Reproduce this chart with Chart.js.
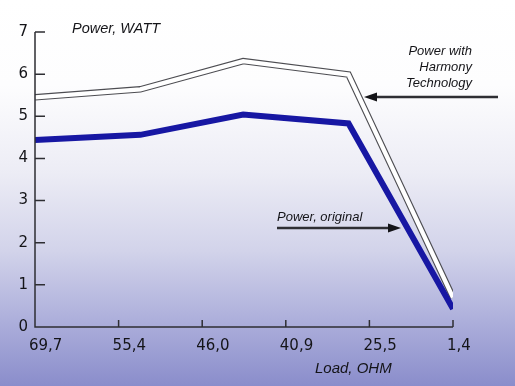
<!DOCTYPE html>
<html>
<head>
<meta charset="utf-8">
<script src="https://cdn.jsdelivr.net/npm/chart.js@4"></script>
<style>
  html, body { margin: 0; padding: 0; }
  body {
    width: 515px; height: 386px; overflow: hidden;
    background: linear-gradient(to bottom, #ffffff 0%, #fdfdfe 22%, #ececf5 45%, #d2d3ea 65%, #afb1dc 82%, #8a8dcb 100%);
  }
  canvas { display: block; }
</style>
</head>
<body>
<canvas id="chart" width="515" height="386"></canvas>
<script>
// tick labels of the load axis (OHM)
const loadLabels = ['69,7', '55,4', '46,0', '40,9', '25,5', '1,4'];
// where each measured point sits along the load axis (in tick steps)
const pointPos = [0, 1.26, 2.49, 3.75, 5];
// power, WATT
const powerHarmony = [5.45, 5.64, 6.31, 5.99, 0.7];
const powerOriginal = [4.44, 4.56, 5.04, 4.83, 0.43];

function toPoints(values) {
    return values.map((v, i) => ({ x: pointPos[i], y: v }));
}

const axisFont = { family: 'DejaVu Sans', size: 15 };

// axes with inward ticks + the text and arrows
const decorations = {
    id: 'decorations',
    afterDraw(chart) {
        const ctx = chart.ctx;
        const xs = chart.scales.x;
        const ys = chart.scales.y;
        const left = xs.getPixelForValue(0);
        const right = xs.getPixelForValue(5);
        const bottom = ys.getPixelForValue(0);
        const top = ys.getPixelForValue(7);

        ctx.save();
        ctx.strokeStyle = '#2e2e33';
        ctx.lineWidth = 1.5;
        ctx.beginPath();
        ctx.moveTo(left, top);
        ctx.lineTo(left, bottom);
        ctx.lineTo(right, bottom);
        for (let v = 1; v <= 7; v++) {
            const y = ys.getPixelForValue(v);
            ctx.moveTo(left, y);
            ctx.lineTo(left + 10, y);
        }
        for (let i = 1; i < loadLabels.length; i++) {
            const x = xs.getPixelForValue(i);
            ctx.moveTo(x, bottom);
            ctx.lineTo(x, bottom - 7);
        }
        ctx.stroke();

        ctx.fillStyle = '#141418';
        ctx.textBaseline = 'middle';
        ctx.font = 'italic 14.5px "Liberation Sans"';
        ctx.textAlign = 'left';
        ctx.fillText('Power, WATT', 72, 29);

        ctx.font = 'italic 13px "Liberation Sans"';
        ctx.textAlign = 'right';
        ctx.fillText('Power with', 472, 51);
        ctx.fillText('Harmony', 472, 67);
        ctx.fillText('Technology', 472, 83);

        ctx.textAlign = 'left';
        ctx.fillText('Power, original', 277, 217);

        ctx.font = 'italic 15px "Liberation Sans"';
        ctx.fillText('Load, OHM', 315, 369);

        // arrows
        ctx.lineWidth = 2.5;
        ctx.beginPath();
        ctx.moveTo(498, 97);
        ctx.lineTo(374, 97);
        ctx.moveTo(277, 228);
        ctx.lineTo(390, 228);
        ctx.stroke();
        ctx.beginPath();
        ctx.moveTo(364, 97);
        ctx.lineTo(377, 92.5);
        ctx.lineTo(377, 101.5);
        ctx.closePath();
        ctx.moveTo(401, 228);
        ctx.lineTo(388, 223.5);
        ctx.lineTo(388, 232.5);
        ctx.closePath();
        ctx.fill();
        ctx.restore();
    }
};

new Chart(document.getElementById('chart'), {
    type: 'line',
    data: {
        datasets: [
            {
                label: 'Power with Harmony Technology (outline)',
                data: toPoints(powerHarmony),
                borderColor: '#4d4d52',
                borderWidth: 6.5,
                borderJoinStyle: 'miter',
                pointRadius: 0,
                tension: 0,
                fill: false,
                order: 3
            },
            {
                label: 'Power with Harmony Technology',
                data: toPoints(powerHarmony),
                borderColor: '#ffffff',
                borderWidth: 4.3,
                borderJoinStyle: 'miter',
                pointRadius: 0,
                tension: 0,
                fill: false,
                order: 2
            },
            {
                label: 'Power, original',
                data: toPoints(powerOriginal),
                borderColor: '#1717a3',
                borderWidth: 6,
                borderJoinStyle: 'miter',
                pointRadius: 0,
                tension: 0,
                fill: false,
                order: 1
            }
        ]
    },
    options: {
        responsive: false,
        animation: false,
        layout: { padding: { top: 32, right: 62 } },
        plugins: {
            legend: { display: false },
            tooltip: { enabled: false }
        },
        scales: {
            x: {
                type: 'linear',
                min: 0,
                max: 5,
                grid: { display: false, drawTicks: false },
                border: { display: false },
                ticks: {
                    stepSize: 1,
                    padding: 10,
                    align: 'start',
                    labelOffset: -6,
                    color: '#141418',
                    font: axisFont,
                    maxRotation: 0,
                    callback: (v) => loadLabels[v]
                },
                afterFit(scale) { scale.height = 59; }
            },
            y: {
                min: 0,
                max: 7,
                grid: { display: false, drawTicks: false },
                border: { display: false },
                ticks: {
                    stepSize: 1,
                    padding: 7,
                    color: '#141418',
                    font: axisFont
                },
                afterFit(scale) { scale.width = 35; }
            }
        }
    },
    plugins: [decorations]
});
</script>
</body>
</html>
